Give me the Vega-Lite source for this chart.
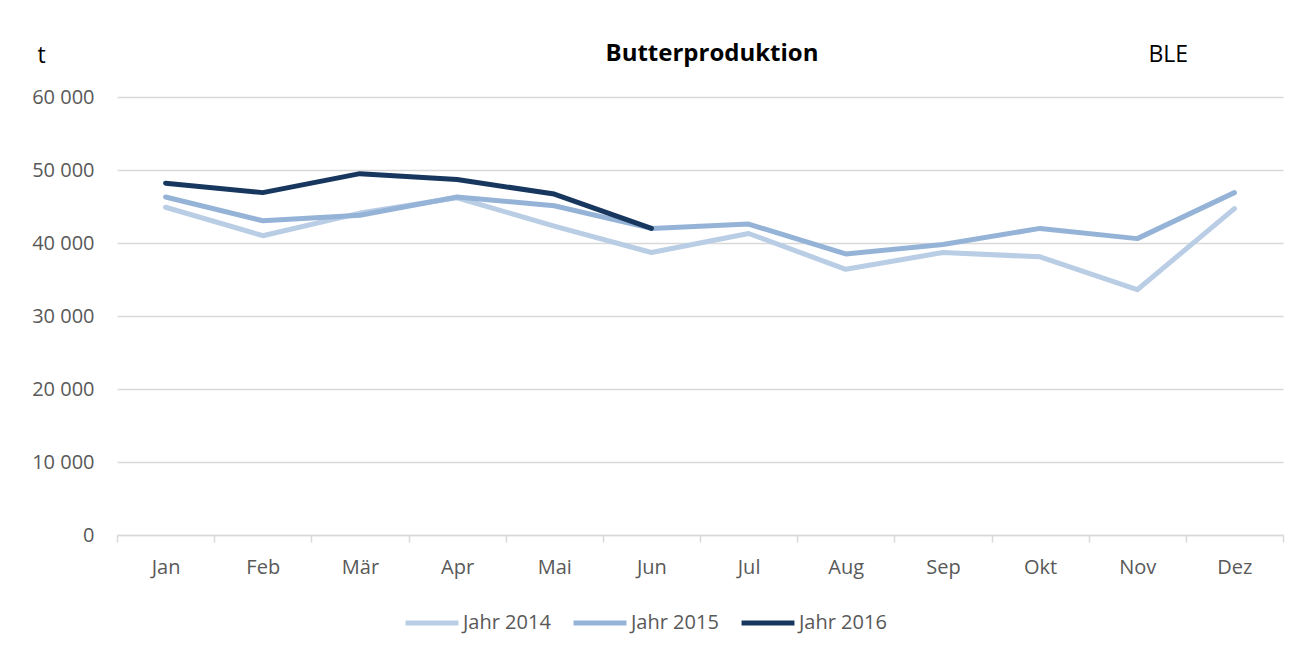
{
  "$schema": "https://vega.github.io/schema/vega-lite/v6.json",
  "width": 1166,
  "height": 438,
  "autosize": {"type": "none"},
  "padding": {"left": 117, "top": 97, "right": 29, "bottom": 120},
  "background": "white",
  "config": {"view": {"stroke": null}, "font": "Open Sans"},
  "title": {"text": "Butterproduktion", "fontSize": 24, "fontWeight": "bold", "color": "black", "anchor": "middle", "offset": -23, "dx": 12, "font": "Open Sans"},
  "data": {
    "values": [
      {"Monat": "Jan", "Jahr": "Jahr 2014", "Wert": 44900},
      {"Monat": "Feb", "Jahr": "Jahr 2014", "Wert": 41000},
      {"Monat": "Mär", "Jahr": "Jahr 2014", "Wert": 44100},
      {"Monat": "Apr", "Jahr": "Jahr 2014", "Wert": 46200},
      {"Monat": "Mai", "Jahr": "Jahr 2014", "Wert": 42300},
      {"Monat": "Jun", "Jahr": "Jahr 2014", "Wert": 38700},
      {"Monat": "Jul", "Jahr": "Jahr 2014", "Wert": 41300},
      {"Monat": "Aug", "Jahr": "Jahr 2014", "Wert": 36400},
      {"Monat": "Sep", "Jahr": "Jahr 2014", "Wert": 38700},
      {"Monat": "Okt", "Jahr": "Jahr 2014", "Wert": 38100},
      {"Monat": "Nov", "Jahr": "Jahr 2014", "Wert": 33600},
      {"Monat": "Dez", "Jahr": "Jahr 2014", "Wert": 44700},
      {"Monat": "Jan", "Jahr": "Jahr 2015", "Wert": 46300},
      {"Monat": "Feb", "Jahr": "Jahr 2015", "Wert": 43050},
      {"Monat": "Mär", "Jahr": "Jahr 2015", "Wert": 43800},
      {"Monat": "Apr", "Jahr": "Jahr 2015", "Wert": 46300},
      {"Monat": "Mai", "Jahr": "Jahr 2015", "Wert": 45100},
      {"Monat": "Jun", "Jahr": "Jahr 2015", "Wert": 42000},
      {"Monat": "Jul", "Jahr": "Jahr 2015", "Wert": 42600},
      {"Monat": "Aug", "Jahr": "Jahr 2015", "Wert": 38500},
      {"Monat": "Sep", "Jahr": "Jahr 2015", "Wert": 39800},
      {"Monat": "Okt", "Jahr": "Jahr 2015", "Wert": 42000},
      {"Monat": "Nov", "Jahr": "Jahr 2015", "Wert": 40600},
      {"Monat": "Dez", "Jahr": "Jahr 2015", "Wert": 46900},
      {"Monat": "Jan", "Jahr": "Jahr 2016", "Wert": 48200},
      {"Monat": "Feb", "Jahr": "Jahr 2016", "Wert": 46900},
      {"Monat": "Mär", "Jahr": "Jahr 2016", "Wert": 49500},
      {"Monat": "Apr", "Jahr": "Jahr 2016", "Wert": 48700},
      {"Monat": "Mai", "Jahr": "Jahr 2016", "Wert": 46700},
      {"Monat": "Jun", "Jahr": "Jahr 2016", "Wert": 42000}
    ]
  },
  "layer": [
    {
      "mark": {"type": "line", "strokeWidth": 5, "strokeCap": "round", "strokeJoin": "round"},
      "encoding": {
        "x": {
          "field": "Monat", "type": "ordinal",
          "sort": ["Jan", "Feb", "Mär", "Apr", "Mai", "Jun", "Jul", "Aug", "Sep", "Okt", "Nov", "Dez"],
          "scale": {"type": "band", "paddingInner": 0, "paddingOuter": 0},
          "bandPosition": 0.5,
          "axis": {"title": null, "labelAngle": 0, "tickBand": "extent", "domainColor": "#d9d9d9", "domainWidth": 1.5, "tickColor": "#d9d9d9", "tickWidth": 1.5, "tickSize": 7, "labelColor": "#595959", "labelFontSize": 20, "labelPadding": 15, "grid": false}
        },
        "y": {
          "field": "Wert", "type": "quantitative",
          "scale": {"domain": [0, 60000]},
          "axis": {"values": [0, 10000, 20000, 30000, 40000, 50000, 60000], "labelExpr": "replace(format(datum.value, ','), ',', ' ')", "title": "t", "titleAngle": 0, "titleAlign": "left", "titleBaseline": "alphabetic", "titleX": -80, "titleY": -35, "titleFontSize": 23, "titleFontWeight": "normal", "titleColor": "black", "domain": false, "ticks": false, "gridColor": "#d9d9d9", "gridWidth": 1.5, "labelColor": "#595959", "labelFontSize": 20, "labelPadding": 23}
        },
        "color": {
          "field": "Jahr", "type": "nominal",
          "scale": {"domain": ["Jahr 2014", "Jahr 2015", "Jahr 2016"], "range": ["#b9cde5", "#95b3d7", "#17375e"]},
          "legend": {"title": null, "orient": "none", "legendX": 286, "legendY": 497, "direction": "horizontal", "symbolType": "stroke", "symbolStrokeWidth": 5, "symbolSize": 2800, "labelFontSize": 20, "labelColor": "#595959", "labelOffset": 2, "columnPadding": 12}
        }
      }
    },
    {
      "mark": {"type": "line", "opacity": 0},
      "encoding": {
        "x": {
          "field": "Monat", "type": "ordinal",
          "sort": ["Jan", "Feb", "Mär", "Apr", "Mai", "Jun", "Jul", "Aug", "Sep", "Okt", "Nov", "Dez"],
          "scale": {"type": "band", "paddingInner": 0, "paddingOuter": 0},
          "bandPosition": 0.5,
          "axis": {"orient": "top", "domain": false, "ticks": false, "labels": false, "grid": false, "title": "BLE", "titleAlign": "left", "titleBaseline": "alphabetic", "titleX": 1031, "titleY": -36, "titleFontSize": 23, "titleFontWeight": "normal", "titleColor": "black"}
        },
        "y": {
          "field": "Wert", "type": "quantitative",
          "scale": {"domain": [0, 60000]},
          "axis": {"values": [0, 10000, 20000, 30000, 40000, 50000, 60000], "labelExpr": "replace(format(datum.value, ','), ',', ' ')", "title": "t", "titleAngle": 0, "titleAlign": "left", "titleBaseline": "alphabetic", "titleX": -80, "titleY": -35, "titleFontSize": 23, "titleFontWeight": "normal", "titleColor": "black", "domain": false, "ticks": false, "gridColor": "#d9d9d9", "gridWidth": 1.5, "labelColor": "#595959", "labelFontSize": 20, "labelPadding": 23}
        },
        "detail": {"field": "Jahr"}
      }
    }
  ],
  "resolve": {"axis": {"x": "independent"}}
}
